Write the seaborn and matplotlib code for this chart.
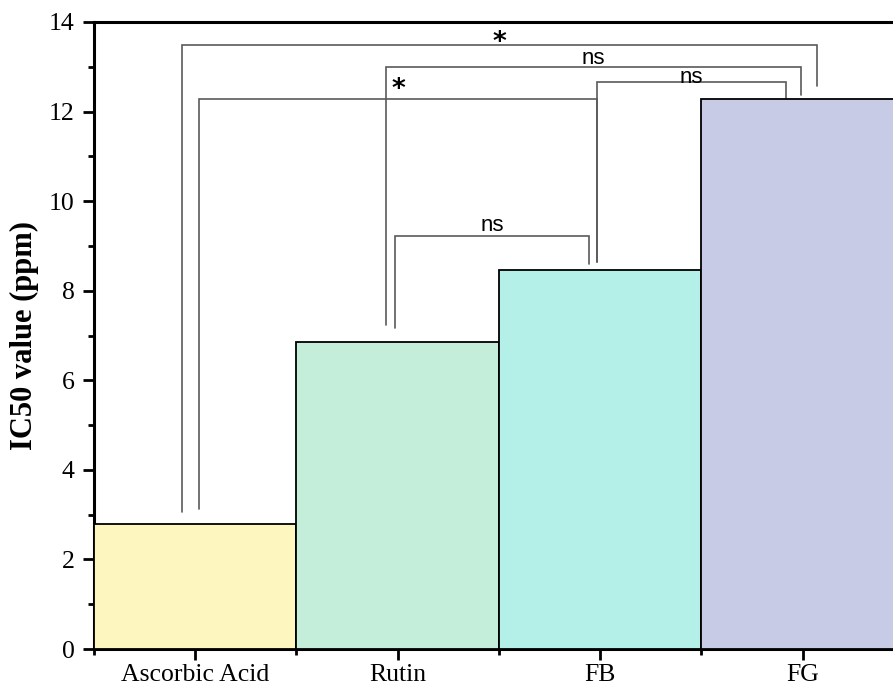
import matplotlib
matplotlib.use("Agg")
import matplotlib.pyplot as plt
import seaborn as sns
import pandas as pd
from matplotlib.ticker import MultipleLocator, FixedLocator

# ---- data ----
categories = ["Ascorbic Acid", "Rutin", "FB", "FG"]
ic50_values = [2.78, 6.85, 8.47, 12.27]
bar_colors = ["#FDF6BE", "#C4EDDA", "#B4EFE8", "#C7CBE6"]

# significance brackets: left/right category index, x offsets, top height,
# left leg end, right leg end, label, label baseline
sig_left = [0, 0, 1, 1, 2]
sig_right = [3, 2, 3, 2, 3]
sig_left_off = [-0.067, 0.019, -0.058, -0.014, -0.016]
sig_right_off = [0.072, -0.016, -0.007, -0.054, -0.084]
sig_top = [13.49, 12.29, 12.99, 9.23, 12.65]
sig_left_end = [3.05, 3.12, 7.23, 7.17, 8.64]
sig_right_end = [12.57, 8.64, 12.38, 8.60, 12.26]
sig_labels = ["*", "*", "ns", "ns", "ns"]
sig_label_y = [13.37, 12.33, 13.06, 9.34, 12.64]

sns.set_style("ticks")
plt.rcParams["font.family"] = ["Liberation Serif", "DejaVu Serif"]
plt.rcParams["text.color"] = "black"
plt.rcParams["axes.labelcolor"] = "black"
plt.rcParams["xtick.color"] = "black"
plt.rcParams["ytick.color"] = "black"

df = pd.DataFrame({"category": categories, "value": ic50_values})

fig = plt.figure(figsize=(8.93, 6.92), dpi=100)
ax = fig.add_axes([94 / 893, 1 - 649 / 692, 1 - 94 / 893, (649 - 22) / 692])

sns.barplot(data=df, x="category", y="value", hue="category", order=categories,
            hue_order=categories, palette=bar_colors, saturation=1, width=1.0,
            edgecolor="black", linewidth=1.3, legend=False, ax=ax, zorder=3)

# brackets
for l, r, lo, ro, top, le, re, lab, ly in zip(sig_left, sig_right, sig_left_off,
                                              sig_right_off, sig_top, sig_left_end,
                                              sig_right_end, sig_labels, sig_label_y):
    x1 = l + lo
    x2 = r + ro
    ax.plot([x1, x1, x2, x2], [le, top, top, re], color="#5a5a5a", lw=1.2,
            zorder=2, solid_joinstyle="miter")
    if lab == "*":
        ax.text((x1 + x2) / 2, ly, lab, ha="center", va="baseline", fontsize=19,
                fontweight="bold", family=["DejaVu Sans"], color="black", zorder=4)
    else:
        ax.text((x1 + x2) / 2, ly, lab, ha="center", va="baseline", fontsize=16,
                family=["Liberation Sans", "DejaVu Sans"], color="black", zorder=4)

ax.set_xlim(-0.5, 3.447)
ax.set_ylim(0, 14)
ax.yaxis.set_major_locator(MultipleLocator(2))
ax.yaxis.set_minor_locator(MultipleLocator(1))
ax.xaxis.set_minor_locator(FixedLocator([-0.5, 0.5, 1.5, 2.5]))

ax.set_xlabel("")
ax.set_ylabel("IC50 value (ppm)", fontsize=22, fontweight="bold", labelpad=7,
              color="black")

for side in ["left", "bottom", "top"]:
    ax.spines[side].set_linewidth(2.2)
    ax.spines[side].set_color("black")
ax.spines["right"].set_visible(False)
ax.spines["top"].set_zorder(5)

ax.tick_params(axis="both", which="major", direction="out", length=8, width=2,
               labelsize=18.5, color="black", labelcolor="black", pad=3)
ax.tick_params(axis="both", which="minor", direction="out", length=4.5, width=2,
               color="black")
ax.tick_params(axis="y", which="major", pad=6)
ax.tick_params(top=False, right=False, which="both")

fig.savefig("out.png", dpi=100)
